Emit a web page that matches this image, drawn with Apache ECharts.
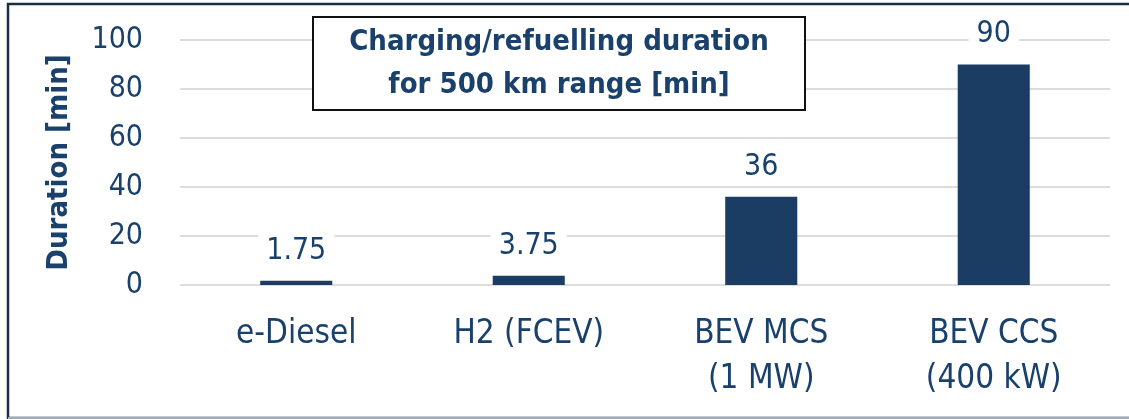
<!DOCTYPE html>
<html>
<head>
<meta charset="utf-8">
<script src="https://cdn.jsdelivr.net/npm/echarts@6/dist/echarts.min.js"></script>
<style>
  html, body { margin: 0; padding: 0; background: #fff; }
  #chart { width: 1129px; height: 419px; }
</style>
</head>
<body>
<div id="chart"></div>
<script>
// data
const categories = ['e-Diesel', 'H2 (FCEV)', 'BEV MCS\n(1 MW)', 'BEV CCS\n(400 kW)'];
const durations = [1.75, 3.75, 36, 90];
const labels = ['1.75', '3.75', '36', '90'];

const FONT = '"Liberation Sans Narrow", "DejaVu Sans Condensed", "Roboto", sans-serif';
const TXT = '#1A416C';
const BAR = '#1B3D63';

var myChart = echarts.init(document.getElementById('chart'));
var option = {
    backgroundColor: '#fff',
    animation: false,
    grid: { left: 180, right: 19, top: 40, bottom: 134 },
    xAxis: {
        type: 'category',
        data: categories,
        axisLine: { show: false },
        axisTick: { show: false },
        axisLabel: {
            color: TXT,
            fontFamily: FONT,
            fontSize: 33,
            lineHeight: 45,
            margin: 27,
        },
    },
    yAxis: {
        type: 'value',
        min: 0,
        max: 100,
        interval: 20,
        name: 'Duration [min]',
        nameLocation: 'middle',
        nameRotate: 90,
        nameGap: 106,
        nameTextStyle: {
            color: TXT,
            fontFamily: FONT,
            fontSize: 29,
            fontWeight: 'bold',
        },
        axisLabel: {
            color: TXT,
            fontFamily: FONT,
            fontSize: 30,
            margin: 37,
        },
        splitLine: { lineStyle: { color: '#dcdcdc', width: 2 } },
    },
    series: [
        {
            type: 'bar',
            data: durations,
            barWidth: '31%',
            itemStyle: { color: BAR },
            label: {
                show: true,
                position: 'top',
                distance: 13,
                color: TXT,
                fontFamily: FONT,
                fontSize: 30,
                backgroundColor: '#fff',
                padding: [2, 8],
                formatter: (p) => labels[p.dataIndex],
            },
        },
    ],
    graphic: [
        {
            type: 'rect',
            z: 100,
            shape: { x: 8, y: 4, width: 1135, height: 414 },
            style: { fill: null, stroke: '#1A2E45', lineWidth: 2.5 },
        },
        {
            type: 'line',
            z: 101,
            shape: { x1: 8, y1: 418, x2: 1129, y2: 418 },
            style: { stroke: '#A3ABB4', lineWidth: 2 },
        },
        {
            type: 'rect',
            z: 100,
            shape: { x: 313, y: 17, width: 492, height: 93 },
            style: { fill: '#fff', stroke: '#111', lineWidth: 2 },
        },
        {
            type: 'text',
            z: 101,
            x: 559,
            y: 64,
            style: {
                text: 'Charging/refuelling duration\nfor 500 km range [min]',
                align: 'center',
                verticalAlign: 'middle',
                fill: TXT,
                fontFamily: FONT,
                fontSize: 29,
                fontWeight: 'bold',
                lineHeight: 43,
            },
        },
    ],
};
myChart.setOption(option);
</script>
</body>
</html>
